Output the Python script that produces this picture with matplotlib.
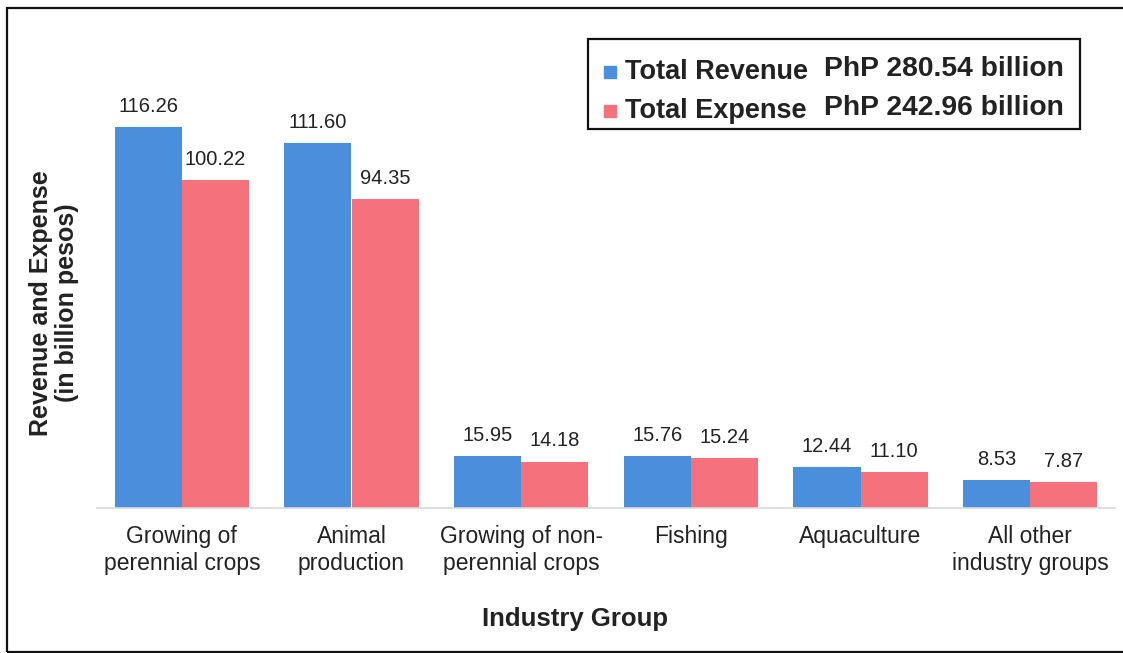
import matplotlib
matplotlib.use('Agg')
import matplotlib.pyplot as plt
import numpy as np
from matplotlib.patches import Rectangle

plt.rcParams['font.family'] = ['Liberation Sans', 'DejaVu Sans']

# data (billion pesos)
groups = ['Growing of\nperennial crops', 'Animal\nproduction',
          'Growing of non-\nperennial crops', 'Fishing', 'Aquaculture',
          'All other\nindustry groups']
revenue = [116.26, 111.60, 15.95, 15.76, 12.44, 8.53]
expense = [100.22, 94.35, 14.18, 15.24, 11.10, 7.87]
legend_names = ['Total Revenue', 'Total Expense']
legend_totals = ['PhP 280.54 billion', 'PhP 242.96 billion']

blue = '#4a8fdb'
red = '#f5717b'
W, H = 1123, 653

fig = plt.figure(figsize=(W / 100, H / 100), dpi=100)
ax = fig.add_axes([97 / W, 1 - 508 / H, (1115 - 97) / W, (508 - 30) / H])

x = np.arange(len(groups))
bw = 0.395
b1 = ax.bar(x - bw / 2, revenue, bw, color=blue)
b2 = ax.bar(x + bw / 2, expense, bw, color=red)

for bars, vals in ((b1, revenue), (b2, expense)):
    for b, v in zip(bars, vals):
        ax.annotate('%.2f' % v, (b.get_x() + b.get_width() / 2, b.get_height()),
                    xytext=(0, 8), textcoords='offset points',
                    ha='center', va='bottom', fontsize=14.5, color='#222222')

ax.set_xlim(-0.5, len(groups) - 0.5)
ax.set_ylim(0, 146)
ax.set_xticks(x)
ax.set_xticklabels(groups, fontsize=16.5, color='#222222', linespacing=1.22)
ax.tick_params(axis='x', length=0, pad=12)
ax.set_yticks([])
for s in ['top', 'right', 'left']:
    ax.spines[s].set_visible(False)
ax.spines['bottom'].set_color('#d9d9d9')
ax.spines['bottom'].set_linewidth(1.2)

fig.text(575 / W, 1 - 619 / H, 'Industry Group', fontsize=18.5, fontweight='bold',
         ha='center', va='center', color='#222222')
fig.text(54 / W, 1 - 303 / H, 'Revenue and Expense\n(in billion pesos)', fontsize=18,
         fontweight='bold', rotation=90, ha='center', va='center',
         color='#222222', linespacing=1.1)

# legend box
fig.patches.append(Rectangle((588 / W, 1 - 129 / H), (1080 - 588) / W, (129 - 39) / H,
                             transform=fig.transFigure, fill=False,
                             edgecolor='#111111', linewidth=1.6))
for i, (name, total, c) in enumerate(zip(legend_names, legend_totals, [blue, red])):
    yc = 1 - (72 + 39 * i) / H
    fig.patches.append(Rectangle((604 / W, yc - 6 / H), 12 / W, 12 / H,
                                 transform=fig.transFigure, color=c))
    fig.text(625 / W, yc, name, fontsize=19.5, fontweight='bold',
             ha='left', va='center', color='#222222')
    fig.text(824 / W, yc + 3 / H, total, fontsize=20.3, fontweight='bold',
             ha='left', va='center', color='#222222')

# outer frame (right edge falls outside the picture)
fig.patches.append(Rectangle((7 / W, 1 / H), 1.2, 1 - 8 / H - 1 / H,
                             transform=fig.transFigure, fill=False,
                             edgecolor='#111111', linewidth=1.6))

fig.savefig('out.png', dpi=100)
